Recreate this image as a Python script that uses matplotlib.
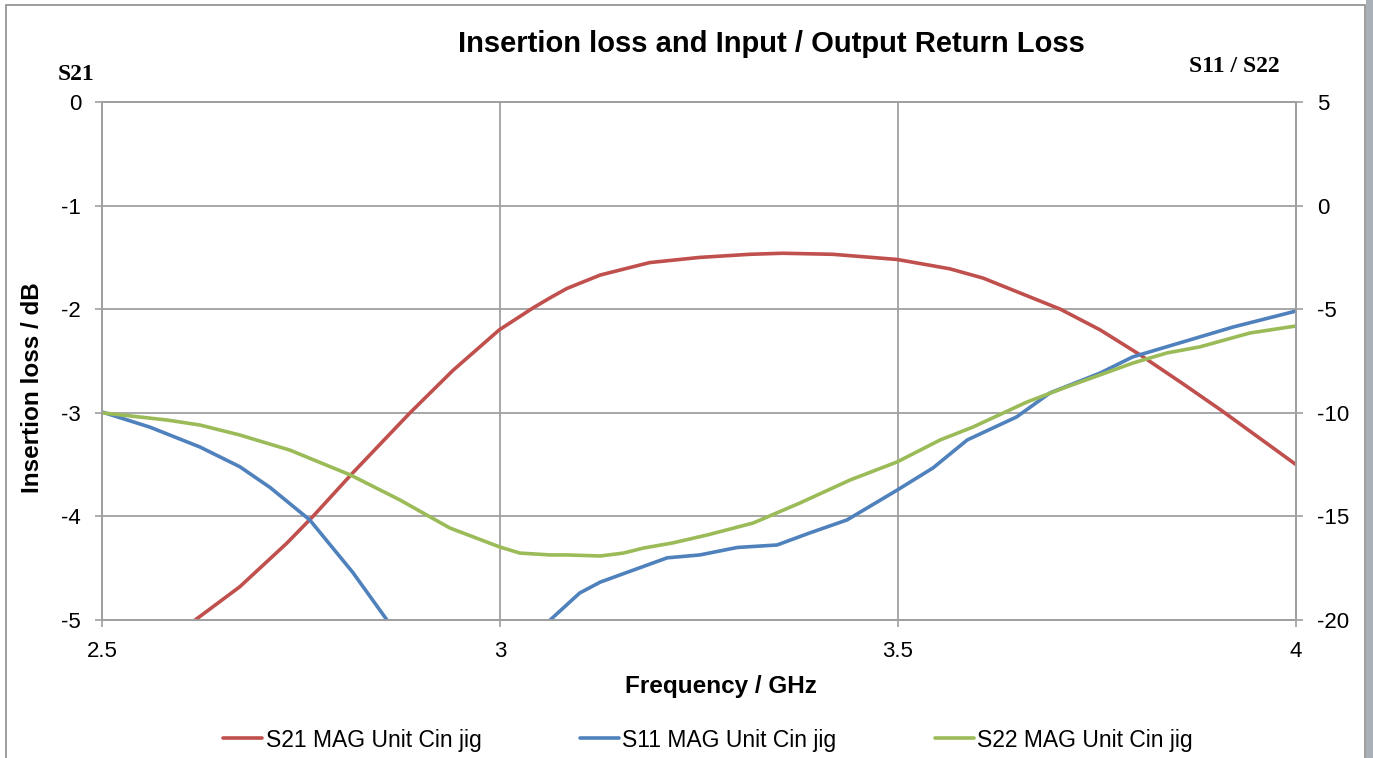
import numpy as np
import matplotlib
matplotlib.use("Agg")
import matplotlib.pyplot as plt
from matplotlib.patches import Rectangle

# S21 (left axis, dB)
s21_f = [2.617, 2.673, 2.732, 2.765, 2.815, 2.887, 2.941, 2.999, 3.041, 3.063, 3.084,
         3.126, 3.188, 3.251, 3.314, 3.355, 3.418, 3.499, 3.565, 3.607, 3.649, 3.704,
         3.754, 3.804, 3.858, 3.905, 4.0]
s21_db = [-5.0, -4.68, -4.26, -4.0, -3.58, -3.0, -2.59, -2.20, -1.99, -1.89, -1.80,
          -1.67, -1.55, -1.50, -1.47, -1.46, -1.47, -1.52, -1.61, -1.70, -1.83, -2.0,
          -2.20, -2.44, -2.72, -2.97, -3.50]

# S11 (right axis, dB) - goes below -20 between ~2.86 and ~3.06
s11_f = [2.5, 2.560, 2.623, 2.673, 2.711, 2.761, 2.815, 2.858, np.nan,
         3.063, 3.1, 3.126, 3.21, 3.251, 3.298, 3.348, 3.389, 3.436, 3.499, 3.544,
         3.587, 3.649, 3.691, 3.754, 3.795, 3.858, 3.921, 4.0]
s11_db = [-9.96, -10.69, -11.65, -12.6, -13.6, -15.17, -17.7, -20.0, np.nan,
          -20.0, -18.7, -18.17, -17.0, -16.86, -16.5, -16.38, -15.8, -15.17, -13.73, -12.66,
          -11.31, -10.2, -9.04, -8.08, -7.3, -6.58, -5.86, -5.09]

# S22 (right axis, dB)
s22_f = [2.5, 2.582, 2.623, 2.673, 2.736, 2.812, 2.874, 2.937, 3.0, 3.025, 3.063,
         3.084, 3.126, 3.155, 3.18, 3.217, 3.26, 3.318, 3.377, 3.44, 3.499, 3.553,
         3.594, 3.662, 3.712, 3.795, 3.838, 3.879, 3.942, 4.0]
s22_db = [-10.0, -10.35, -10.59, -11.07, -11.8, -13.0, -14.2, -15.56, -16.48, -16.77, -16.86,
          -16.86, -16.91, -16.77, -16.53, -16.28, -15.9, -15.32, -14.35, -13.24, -12.37, -11.31,
          -10.69, -9.48, -8.75, -7.6, -7.11, -6.82, -6.15, -5.81]

W, H = 1373, 758
plt.rcParams["font.family"] = ["Liberation Sans", "DejaVu Sans"]
plt.rcParams["axes.unicode_minus"] = False
fig = plt.figure(figsize=(W / 100, H / 100), dpi=100)

# chart frame and gray strip on the right
fig.patches.append(Rectangle((1366 / W, 0), 7 / W, 1, transform=fig.transFigure,
                             facecolor="#a9b0b8", edgecolor="none", zorder=0))
fig.patches.append(Rectangle((6 / W, -0.05), 1359 / W, 1.05 - 5 / H, transform=fig.transFigure,
                             facecolor="none", edgecolor="#8c8c8c", linewidth=1.2, zorder=1))

ax = fig.add_axes([102 / W, 1 - 620 / H, (1296 - 102) / W, (620 - 102) / H])
ax2 = ax.twinx()

grid_c = "#a0a0a0"
kw = dict(lw=2.6, solid_joinstyle="round", solid_capstyle="round")
h0, = ax.plot(s21_f, s21_db, color="#c0504d", label="S21 MAG Unit Cin jig", zorder=3, **kw)
l1, = ax2.plot(s11_f, s11_db, color="#4f81bd", label="S11 MAG Unit Cin jig", **kw)
l2, = ax2.plot(s22_f, s22_db, color="#9bbb59", label="S22 MAG Unit Cin jig", **kw)

ax.set_xlim(2.5, 4)
ax.set_ylim(-5, 0)
ax2.set_ylim(-20, 5)
ax.set_xticks([2.5, 3, 3.5, 4])
ax.set_xticklabels(["2.5", "3", "3.5", "4"])
ax.set_yticks([0, -1, -2, -3, -4, -5])
ax2.set_yticks([5, 0, -5, -10, -15, -20])

ax.grid(True, color=grid_c, lw=1.3)
for a in (ax, ax2):
    for s in a.spines.values():
        s.set_color(grid_c)
        s.set_linewidth(1.3)
ax.tick_params(axis="both", direction="out", length=5, width=1.2, color=grid_c,
               labelsize=16, pad=10)
ax2.tick_params(axis="y", direction="out", length=5, width=1.2, color=grid_c,
                labelsize=16, pad=10)

fig.text(771 / W, 1 - 44 / H, "Insertion loss and Input / Output Return Loss",
         ha="center", va="center", fontsize=21, fontweight="bold")
fig.text(76 / W, 1 - 75 / H, "S21", ha="center", va="center", fontsize=17,
         fontweight="bold", family="Liberation Serif")
fig.text(1234 / W, 1 - 67 / H, "S11 / S22", ha="center", va="center", fontsize=17,
         fontweight="bold", family="Liberation Serif")
fig.text(33 / W, 1 - 388 / H, "Insertion loss / dB", ha="center", va="center",
         rotation=90, fontsize=17.5, fontweight="bold")
fig.text(721 / W, 1 - 686 / H, "Frequency / GHz", ha="center", va="center",
         fontsize=17.5, fontweight="bold")

fig.legend([h0, l1, l2], [h0.get_label(), l1.get_label(), l2.get_label()],
           loc="center", bbox_to_anchor=(708 / W, 1 - 740 / H), ncol=3, frameon=False,
           fontsize=16.5, handlelength=1.7, handletextpad=0.15, columnspacing=4.3)

fig.savefig("out.png", dpi=100)
